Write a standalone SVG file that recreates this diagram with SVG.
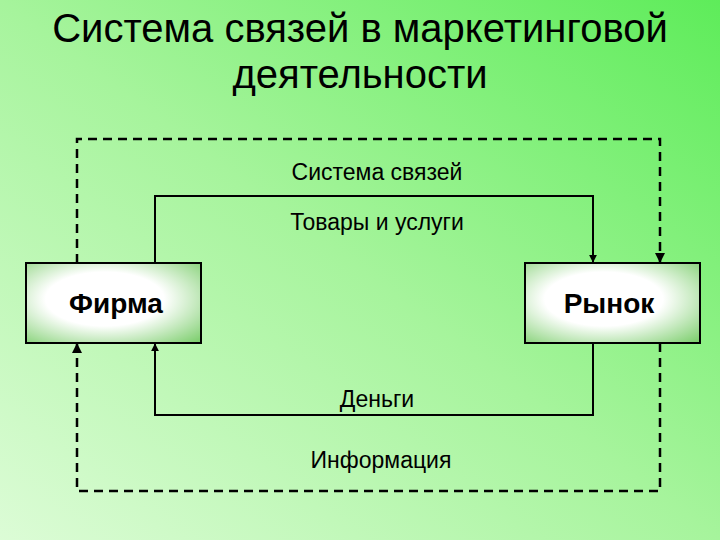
<svg xmlns="http://www.w3.org/2000/svg" width="720" height="540" viewBox="0 0 720 540">
<style>
text{font-family:"Liberation Sans",Arial,sans-serif;fill:#000;text-anchor:middle}
.t{font-size:40px}.l{font-size:23px}.n{font-size:28px;font-weight:bold}
.box{stroke:#000;stroke-width:2;fill:url(#bg2)}
.c{fill:none;stroke:#000;stroke-width:2}
.d{stroke-dasharray:9,6;stroke-width:2.5}
</style>
<defs>
<linearGradient id="bg" x1="0" y1="1" x2="1" y2="0">
<stop offset="0" stop-color="#dcfcd6"/><stop offset="0.5" stop-color="#a6f49c"/><stop offset="1" stop-color="#5eec5a"/>
</linearGradient>
<radialGradient id="bg2" cx="0.45" cy="0.45" r="0.75">
<stop offset="0.45" stop-color="#ffffff"/><stop offset="1" stop-color="#7fcf70"/>
</radialGradient>
<marker id="a" viewBox="0 0 10 10" refX="9" refY="5" markerWidth="4" markerHeight="4" orient="auto"><path d="M0,0L10,5L0,10z" fill="#000"/></marker>
</defs>
<rect width="720" height="540" fill="url(#bg)"/>
<text class="t" x="360" y="42">Система связей в маркетинговой</text>
<text class="t" x="360" y="88">деятельности</text>
<g id="connectors">
<path class="c d" d="M77,263V139H660V262" marker-end="url(#a)"/>
<path class="c d" d="M660,343V491H77V344" marker-end="url(#a)"/>
<path class="c" d="M155,263V196H593V262" marker-end="url(#a)"/>
<path class="c" d="M593,343V415H155V344" marker-end="url(#a)"/>
</g>
<text class="l" x="377" y="180">Система связей</text>
<text class="l" x="377" y="230">Товары и услуги</text>
<text class="l" x="377" y="407">Деньги</text>
<text class="l" x="381" y="468">Информация</text>
<g id="firma"><rect class="box" x="26" y="263" width="175" height="80"/><text class="n" x="116" y="313">Фирма</text></g>
<g id="rynok"><rect class="box" x="525" y="263" width="175" height="80"/><text class="n" x="609" y="313">Рынок</text></g>
</svg>
